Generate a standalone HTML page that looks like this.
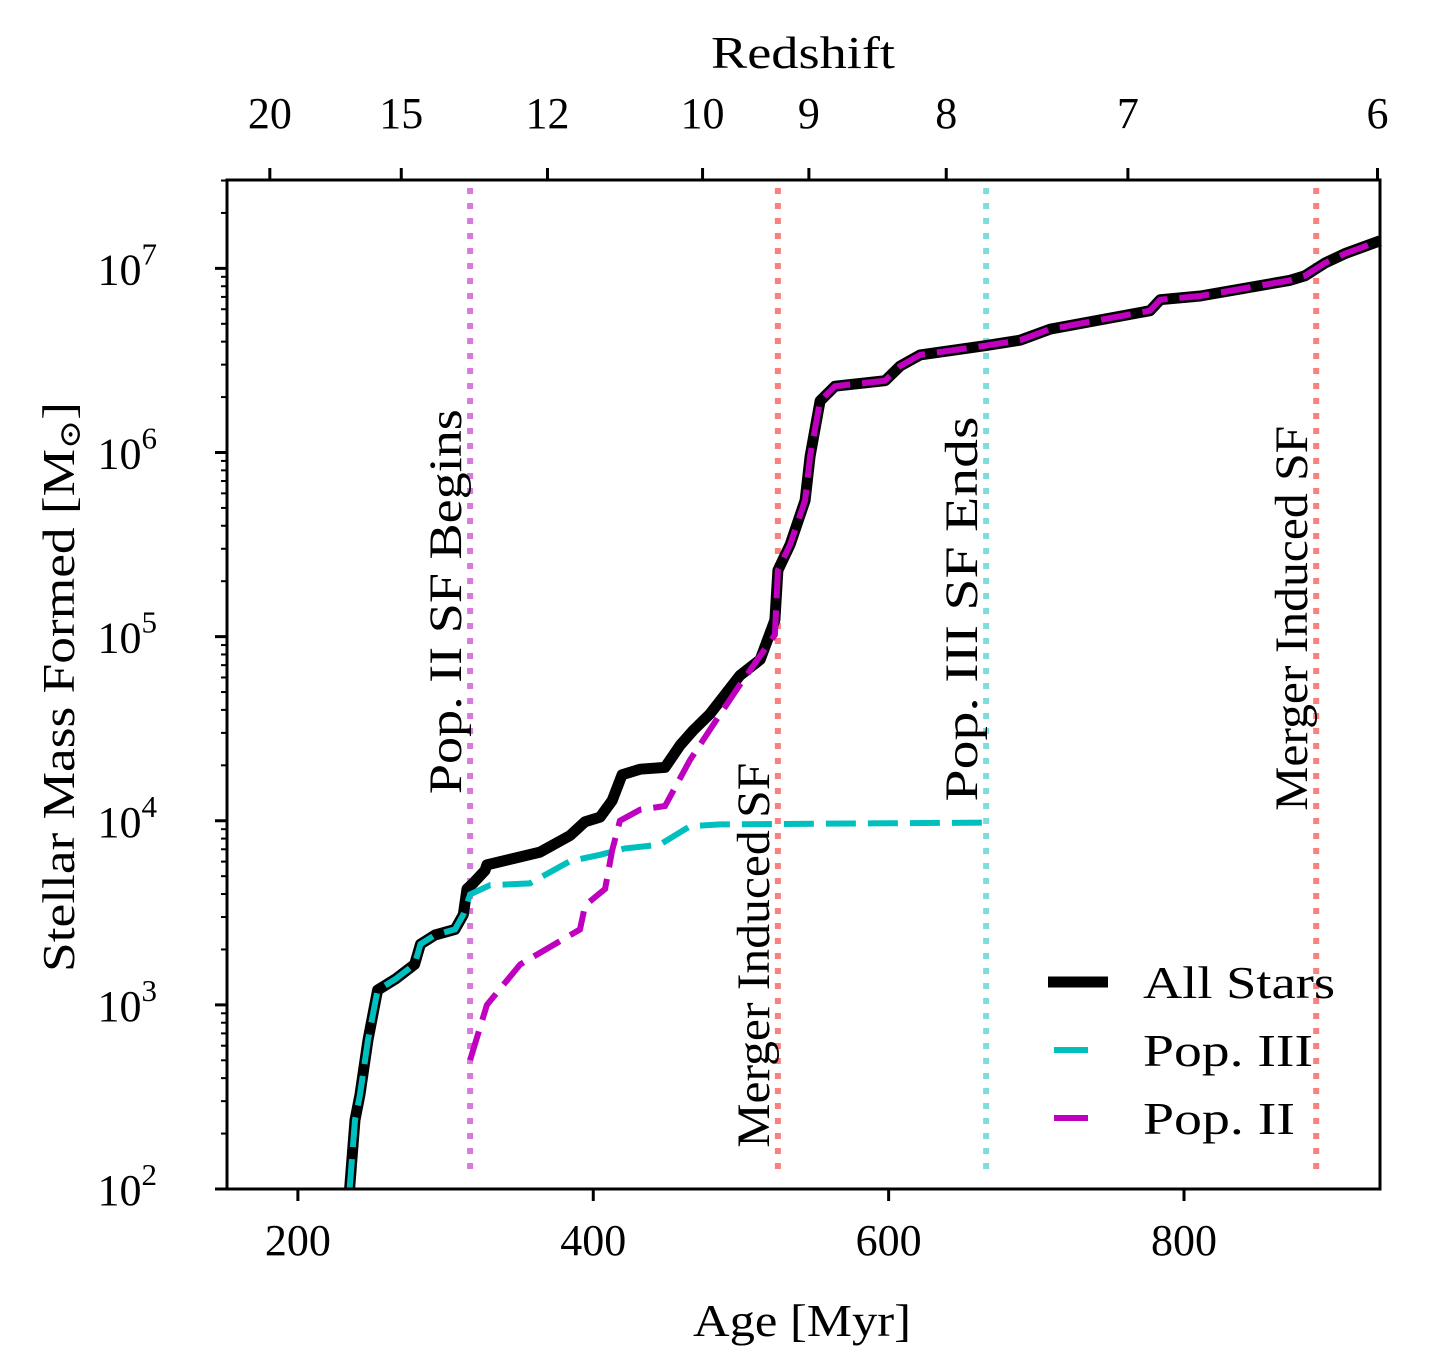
<!DOCTYPE html>
<html><head><meta charset="utf-8"><style>
body{margin:0;background:#fff}
svg{display:block;font-family:"Liberation Serif","DejaVu Serif",serif}
</style></head><body>
<svg id="chart" width="1442" height="1350" viewBox="0 0 1442 1350" xmlns="http://www.w3.org/2000/svg">
<g id="marks"></g>
<g id="axes"></g>
</svg>
<script>
const xTicks=[200,400,600,800];
const yTicks=[2,3,4,5,6,7];
const zLabels=["20","15","12","10","9","8","7","6"];
const zAges=[181,270,369,474,546,639,762,931];
const allAge=[235,238.7,242,247.5,254,266,279,283,293,306.4,312,314.5,318.6,326.7,328,364,384.3,394.5,404.6,412.8,419.5,431.7,448.6,458.8,467.6,479,499.4,513,523,525,533.3,543.4,546.8,553.6,563.7,597.6,607.8,621.3,665.3,689,709.4,777,783.9,811,871.9,882,895.6,909,932.7];
const allLog=[2.0,2.375,2.51,2.81,3.08,3.14,3.22,3.33,3.38,3.41,3.49,3.63,3.66,3.73,3.76,3.83,3.92,3.995,4.02,4.11,4.25,4.28,4.29,4.41,4.49,4.58,4.79,4.875,5.09,5.36,5.5,5.74,5.98,6.28,6.36,6.39,6.47,6.53,6.58,6.61,6.67,6.77,6.83,6.85,6.935,6.96,7.03,7.08,7.15];
const p3Age=[235,238.7,242,247.5,254,266,279,283,293,306.4,312,316.6,330,357,384,404.6,421.5,445,465.5,486,666];
const p3Log=[2.0,2.375,2.51,2.81,3.08,3.14,3.22,3.33,3.38,3.41,3.49,3.60,3.65,3.66,3.78,3.815,3.85,3.87,3.97,3.98,3.99];
const p2Age=[316.6,328,350.5,391,394.5,408,412.8,418,431.7,448.6,465.5,486,499.4,523,525,533.3,543.4,546.8,553.6,563.7,597.6,607.8,621.3,665.3,689,709.4,777,783.9,811,871.9,882,895.6,909,932.7];
const p2Log=[2.70,3.0,3.22,3.41,3.54,3.63,3.84,4.0,4.06,4.08,4.33,4.58,4.74,5.01,5.36,5.5,5.74,5.98,6.28,6.36,6.39,6.47,6.53,6.58,6.61,6.67,6.77,6.83,6.85,6.935,6.96,7.03,7.08,7.15];
const eventAges=[316.6,666,525,889.5];
const eventLabels=["Pop. II SF Begins","Pop. III SF Ends","Merger Induced SF","Merger Induced SF"];
const eventColors=["#d77ade","#7fdcdc","#fa7f7f","#fa7f7f"];
const eventLabelLog=[5.19,5.15,3.27,5.10];

const L=227,R=1380,T=180,B=1189,x0=152,x1=932.7,y0=2,y1=7.48;
const X=a=>L+(a-x0)/(x1-x0)*(R-L);
const Y=v=>B-(v-y0)/(y1-y0)*(B-T);
const NS="http://www.w3.org/2000/svg";
function mk(tag,attrs,parent){const e=document.createElementNS(NS,tag);for(const k in attrs)e.setAttribute(k,attrs[k]);parent.appendChild(e);return e;}
const marks=document.getElementById('marks'),axes=document.getElementById('axes');

eventAges.forEach((a,i)=>{
  const l=mk('line',{x1:X(a),x2:X(a),y1:T+8,y2:B-12,stroke:eventColors[i],'stroke-width':6,'stroke-dasharray':'6 9'},marks);
  
  
  const t=mk('text',{x:0,y:0,'font-size':47,'text-anchor':'middle',textLength:385,lengthAdjust:'spacingAndGlyphs',transform:`translate(${X(a)-9},${Y(eventLabelLog[i])}) rotate(-90)`},marks);
  t.textContent=eventLabels[i];
  
  
});
function pts(ag,lg){return ag.map((a,i)=>X(a).toFixed(1)+','+Y(lg[i]).toFixed(1)).join(' ');}
const s1=mk('polyline',{points:pts(allAge,allLog),fill:'none',stroke:'#000','stroke-width':11,'stroke-linejoin':'round'},marks);


const s2=mk('polyline',{points:pts(p3Age,p3Log),fill:'none',stroke:'#00bfbf','stroke-width':6,'stroke-dasharray':'30 12'},marks);


const s3=mk('polyline',{points:pts(p2Age,p2Log),fill:'none',stroke:'#bf00bf','stroke-width':6,'stroke-dasharray':'30 12'},marks);



const frame=mk('rect',{x:L,y:T,width:R-L,height:B-T,fill:'none',stroke:'#000','stroke-width':3},axes);


xTicks.forEach(v=>{
  mk('line',{x1:X(v),x2:X(v),y1:B,y2:B+12,stroke:'#000','stroke-width':3},axes);
  const t=mk('text',{x:X(v),y:B+66,'font-size':44,'text-anchor':'middle'},axes);t.textContent=v;
  
  
});
yTicks.forEach(v=>{
  mk('line',{x1:L-12,x2:L,y1:Y(v),y2:Y(v),stroke:'#000','stroke-width':3},axes);
  const t=mk('text',{x:L-70,y:Y(v)+16,'font-size':44,'text-anchor':'end'},axes);
  t.textContent='10';
  const s=mk('tspan',{dy:-20,'font-size':31},t);s.textContent=v;
  
  
});
for(let d=2;d<8;d++)for(let m=2;m<10;m++){const v=d+Math.log10(m);if(v<y1)mk('line',{x1:L-6,x2:L,y1:Y(v),y2:Y(v),stroke:'#000','stroke-width':2},axes);}
zAges.forEach((a,i)=>{
  mk('line',{x1:X(a),x2:X(a),y1:T-12,y2:T,stroke:'#000','stroke-width':3},axes);
  const t=mk('text',{x:X(a),y:T-52,'font-size':44,'text-anchor':'middle'},axes);t.textContent=zLabels[i];
  
  
});
</script>
<svg style="position:absolute;left:0;top:0" width="1442" height="1350" xmlns="http://www.w3.org/2000/svg" font-family="Liberation Serif, serif">
<text x="803" y="68" font-size="46" text-anchor="middle" textLength="184" lengthAdjust="spacingAndGlyphs">Redshift</text>
<text x="802" y="1336" font-size="46" text-anchor="middle" textLength="218" lengthAdjust="spacingAndGlyphs">Age [Myr]</text>
<text transform="translate(74,687) rotate(-90)" font-size="46" text-anchor="middle" textLength="570" lengthAdjust="spacingAndGlyphs">Stellar Mass Formed [M<tspan font-size="30" dy="6">⊙</tspan><tspan dy="-6">]</tspan></text>
<g>
<line x1="1048" y1="982" x2="1108" y2="982" stroke="#000" stroke-width="11"/>
<text x="1143" y="998" font-size="46" textLength="192" lengthAdjust="spacingAndGlyphs">All Stars</text>
<line x1="1054" y1="1050" x2="1088" y2="1050" stroke="#00bfbf" stroke-width="6"/>
<text x="1143" y="1066" font-size="46" textLength="170" lengthAdjust="spacingAndGlyphs">Pop. III</text>
<line x1="1054" y1="1118" x2="1088" y2="1118" stroke="#bf00bf" stroke-width="6"/>
<text x="1143" y="1134" font-size="46" textLength="152" lengthAdjust="spacingAndGlyphs">Pop. II</text>
</g>
</svg>
</body></html>
